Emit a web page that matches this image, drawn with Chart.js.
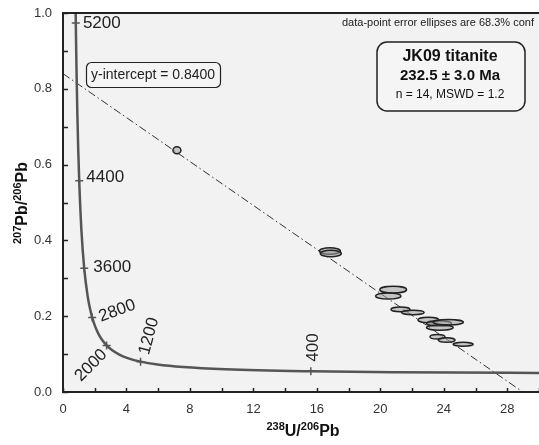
<!DOCTYPE html>
<html>
<head>
<meta charset="utf-8">
<script src="https://cdn.jsdelivr.net/npm/chart.js@4"></script>
<style>
    body { margin: 0; background: #fff; }
    #wrap { width: 539px; height: 445px; }
</style>
</head>
<body>
<div id="wrap"><canvas id="chart" width="539" height="445"></canvas></div>
<script>
// spot analyses: 238U/206Pb, 207Pb/206Pb and the half-axes of the error ellipses
const spotX = [7.18, 16.82, 16.88, 20.81, 20.50, 21.27, 22.05, 23.03, 23.70, 24.28, 23.75, 23.60, 24.18, 25.22];
const spotY = [0.638, 0.372, 0.3655, 0.270, 0.2533, 0.218, 0.2098, 0.190, 0.181, 0.184, 0.170, 0.146, 0.137, 0.126];
const spotErrX = [0.25, 0.66, 0.66, 0.84, 0.80, 0.60, 0.71, 0.66, 0.79, 0.95, 0.84, 0.47, 0.53, 0.63];
const spotErrY = [0.0092, 0.0085, 0.0085, 0.0088, 0.008, 0.006, 0.006, 0.007, 0.007, 0.007, 0.007, 0.006, 0.006, 0.005];

// concordia curve
const concordiaX = [0.7628, 0.8062, 0.8533, 0.9044, 0.9604, 1.0216, 1.1630, 1.337, 1.5557, 1.6875, 1.838, 2.013,
    2.2169, 2.4585, 2.749, 3.1045, 3.5496, 4.1225, 4.888, 5.959, 7.568, 10.252, 15.62, 20.99, 31.73];
const concordiaY = [1.1231, 0.9735, 0.8453, 0.7347, 0.6394, 0.5572, 0.4250, 0.3263, 0.2524, 0.2227, 0.1968, 0.1744,
    0.1548, 0.1378, 0.1230, 0.1100, 0.0987, 0.0888, 0.0801, 0.0725, 0.0658, 0.0599, 0.0547, 0.0523, 0.0501];

// age marks on the concordia (Ma)
const markAges = [5200, 4400, 3600, 2800, 2000, 1200, 400];
const markX = [0.8062, 1.0216, 1.337, 1.838, 2.749, 4.888, 15.62];
const markY = [0.9735, 0.5572, 0.3263, 0.1968, 0.1230, 0.0801, 0.0547];

// regression line: y-intercept and x-intercept
const lineX = [0, 28.98];
const lineY = [0.84, 0];

const xTickLabels = [0, 4, 8, 12, 16, 20, 24, 28];
const yTickLabels = [0.0, 0.2, 0.4, 0.6, 0.8, 1.0];

// label placement for the age marks: offset from the mark in px, rotation in degrees
const markLabelPos = [
    { dx: 26, dy: 0.5, rot: 0 },
    { dx: 26, dy: -3.3, rot: 0 },
    { dx: 28, dy: -1.3, rot: 0 },
    { dx: 25, dy: -6.5, rot: -20 },
    { dx: -15.5, dy: 20, rot: -45 },
    { dx: 8.5, dy: -25.5, rot: -75 },
    { dx: 2.3, dy: -23.8, rot: -90 }
];

const FONT = "'Liberation Sans', Arial, sans-serif";

function pairs(xs, ys) {
    return xs.map((x, i) => ({ x: x, y: ys[i] }));
}

function roundRect(ctx, x, y, w, h, r) {
    ctx.beginPath();
    ctx.moveTo(x + r, y);
    ctx.arcTo(x + w, y, x + w, y + h, r);
    ctx.arcTo(x + w, y + h, x, y + h, r);
    ctx.arcTo(x, y + h, x, y, r);
    ctx.arcTo(x, y, x + w, y, r);
    ctx.closePath();
}

// draws runs of [text, size, sup] side by side, centred on x
function drawRuns(ctx, runs, x, y) {
    let total = 0;
    runs.forEach(r => {
        ctx.font = 'bold ' + r[1] + 'px ' + FONT;
        total += ctx.measureText(r[0]).width;
    });
    let cx = x - total / 2;
    runs.forEach(r => {
        ctx.font = 'bold ' + r[1] + 'px ' + FONT;
        ctx.fillText(r[0], cx, r[2] ? y - 6 : y);
        cx += ctx.measureText(r[0]).width;
    });
}

const overlay = {
    id: 'overlay',
    beforeDraw(chart) {
        const a = chart.chartArea;
        const ctx = chart.ctx;
        ctx.save();
        ctx.fillStyle = '#f2f2f2';
        ctx.fillRect(a.left, a.top, a.right - a.left, a.bottom - a.top);
        ctx.restore();
    },
    afterDatasetsDraw(chart) {
        const ctx = chart.ctx;
        const xs = chart.scales.x;
        const ys = chart.scales.y;
        const a = chart.chartArea;

        ctx.save();
        ctx.beginPath();
        ctx.rect(a.left, a.top, a.right - a.left, a.bottom - a.top);
        ctx.clip();
        for (let i = 0; i < spotX.length; i++) {
            const px = xs.getPixelForValue(spotX[i]);
            const py = ys.getPixelForValue(spotY[i]);
            const rx = Math.abs(xs.getPixelForValue(spotX[i] + spotErrX[i]) - px);
            const ry = Math.abs(ys.getPixelForValue(spotY[i] + spotErrY[i]) - py);
            ctx.beginPath();
            ctx.ellipse(px, py, rx, ry, 0, 0, Math.PI * 2);
            ctx.fillStyle = 'rgba(160, 160, 160, 0.55)';
            ctx.fill();
            ctx.lineWidth = 1.5;
            ctx.strokeStyle = '#222';
            ctx.stroke();
        }
        ctx.restore();

        ctx.save();
        ctx.fillStyle = '#222';
        ctx.font = '17px ' + FONT;
        ctx.textAlign = 'center';
        ctx.textBaseline = 'middle';
        markAges.forEach((age, i) => {
            const p = markLabelPos[i];
            ctx.save();
            ctx.translate(xs.getPixelForValue(markX[i]) + p.dx, ys.getPixelForValue(markY[i]) + p.dy);
            ctx.rotate(p.rot * Math.PI / 180);
            ctx.fillText(String(age), 0, 0);
            ctx.restore();
        });
        ctx.restore();
    },
    afterDraw(chart) {
        const ctx = chart.ctx;
        const a = chart.chartArea;
        const xs = chart.scales.x;
        const ys = chart.scales.y;
        ctx.save();

        // frame and inward ticks
        ctx.strokeStyle = '#222';
        ctx.lineWidth = 1.5;
        ys.ticks.forEach(t => {
            const py = Math.round(ys.getPixelForValue(t.value)) + 0.5;
            ctx.beginPath();
            ctx.moveTo(a.left, py);
            ctx.lineTo(a.left + 5, py);
            ctx.stroke();
        });
        xs.ticks.forEach(t => {
            const px = Math.round(xs.getPixelForValue(t.value)) + 0.5;
            ctx.beginPath();
            ctx.moveTo(px, a.bottom);
            ctx.lineTo(px, a.bottom - 4);
            ctx.stroke();
        });
        ctx.lineWidth = 2;
        ctx.beginPath();
        ctx.moveTo(a.right, a.top);
        ctx.lineTo(a.left, a.top);
        ctx.lineTo(a.left, a.bottom);
        ctx.lineTo(a.right, a.bottom);
        ctx.stroke();

        // axis titles
        ctx.fillStyle = '#111';
        ctx.textBaseline = 'alphabetic';
        ctx.textAlign = 'left';
        drawRuns(ctx, [['238', 11, true], ['U/', 16], ['206', 11, true], ['Pb', 16]], 303, 436);
        ctx.save();
        ctx.translate(27, 203);
        ctx.rotate(-Math.PI / 2);
        drawRuns(ctx, [['207', 11, true], ['Pb/', 16], ['206', 11, true], ['Pb', 16]], 0, 0);
        ctx.restore();

        // note at top
        ctx.fillStyle = '#222';
        ctx.font = '11px ' + FONT;
        ctx.textBaseline = 'middle';
        ctx.fillText('data-point error ellipses are 68.3% conf', 342, 23);

        // y-intercept box
        ctx.lineWidth = 1.2;
        ctx.strokeStyle = '#222';
        roundRect(ctx, 86.5, 62.5, 134, 25, 5);
        ctx.fillStyle = '#f5f5f5';
        ctx.fill();
        ctx.stroke();
        ctx.fillStyle = '#222';
        ctx.font = '14px ' + FONT;
        ctx.fillText('y-intercept = ' + lineY[0].toFixed(4), 91, 75);

        // result box
        ctx.lineWidth = 1.5;
        roundRect(ctx, 377, 42, 148, 69, 10);
        ctx.fillStyle = '#f5f5f5';
        ctx.fill();
        ctx.stroke();
        ctx.fillStyle = '#111';
        ctx.textAlign = 'center';
        ctx.font = 'bold 16px ' + FONT;
        ctx.fillText('JK09 titanite', 450, 57);
        ctx.font = 'bold 15px ' + FONT;
        ctx.fillText('232.5 ± 3.0 Ma', 450, 76);
        ctx.font = "12px 'Liberation Sans Narrow', " + FONT;
        ctx.fillText('n = 14, MSWD = 1.2', 450, 95);

        ctx.restore();
    }
};

function fitX(s) {
    s.height = 53;
}

function fitY(s) {
    s.width = 63;
    s.paddingTop = 0;
    s.paddingBottom = 0;
}

const ctx = document.getElementById('chart').getContext('2d');
new Chart(ctx, {
    type: 'scatter',
    data: {
        datasets: [
            {
                label: 'concordia',
                data: pairs(concordiaX, concordiaY),
                showLine: true,
                cubicInterpolationMode: 'monotone',
                borderColor: '#555',
                borderWidth: 2.5,
                pointRadius: 0
            },
            {
                label: 'age marks',
                data: pairs(markX, markY),
                pointStyle: 'cross',
                pointRadius: 4,
                borderColor: '#555',
                borderWidth: 1.5
            },
            {
                label: 'regression',
                data: pairs(lineX, lineY),
                showLine: true,
                borderColor: '#333',
                borderWidth: 1,
                borderDash: [8, 3, 1.5, 3],
                pointRadius: 0
            }
        ]
    },
    options: {
        responsive: false,
        animation: false,
        layout: { autoPadding: false, padding: { top: 13, right: 0, left: 0, bottom: 0 } },
        plugins: {
            legend: { display: false },
            tooltip: { enabled: false }
        },
        scales: {
            x: {
                type: 'linear',
                min: 0,
                max: 30,
                afterFit: fitX,
                // invisible tick marks only push the labels down
                grid: { display: true, drawOnChartArea: false, drawTicks: true, tickLength: 10, color: 'rgba(0,0,0,0)' },
                border: { display: false },
                ticks: {
                    stepSize: 2,
                    autoSkip: false,
                    maxRotation: 0,
                    padding: 0,
                    color: '#333',
                    font: { family: FONT, size: 13 },
                    callback: function(value) {
                        return xTickLabels.some(v => Math.abs(v - value) < 1e-6) ? String(value) : '';
                    }
                }
            },
            y: {
                type: 'linear',
                min: 0,
                max: 1,
                afterFit: fitY,
                grid: { display: false, drawTicks: false },
                border: { display: false },
                ticks: {
                    stepSize: 0.1,
                    autoSkip: false,
                    padding: 11,
                    color: '#333',
                    font: { family: FONT, size: 13 },
                    callback: function(value) {
                        return yTickLabels.some(v => Math.abs(v - value) < 1e-6) ? value.toFixed(1) : '';
                    }
                }
            }
        }
    },
    plugins: [overlay]
});
</script>
</body>
</html>
